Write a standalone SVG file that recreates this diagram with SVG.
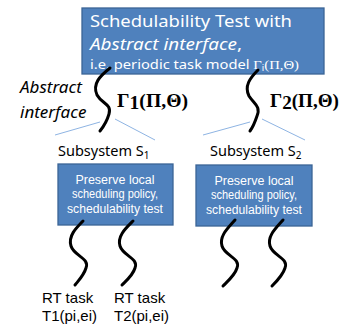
<svg xmlns="http://www.w3.org/2000/svg" width="341" height="327" viewBox="0 0 341 327">
<style>
.box{fill:#4f81bd;stroke:#3b6496;stroke-width:1.3}
.wt{fill:#fff;font-family:"Noto Sans","Liberation Sans",sans-serif}
.bt{fill:#fff;font-family:"Liberation Sans",sans-serif;font-size:12.5px;text-anchor:middle}
.k{fill:#000;font-family:"Noto Sans","Liberation Sans",sans-serif}
.r{fill:#000;font-family:"Liberation Sans",sans-serif;font-size:15px}
.g{fill:#000;font-family:"Liberation Serif",serif;font-weight:bold;font-size:19px}
.sq{fill:none;stroke:#000;stroke-width:3;stroke-linecap:round}
.bl{stroke:#8eb4e3;stroke-width:1}
</style>
<g id="top">
<rect class="box" x="82" y="8" width="242" height="66"/>
<text class="wt" x="90" y="27" font-size="17" textLength="202" lengthAdjust="spacingAndGlyphs">Schedulability Test with</text>
<text class="wt" x="90" y="50" font-size="17" font-style="italic" textLength="152" lengthAdjust="spacingAndGlyphs">Abstract interface<tspan font-style="normal">,</tspan></text>
<text class="wt" x="90" y="69" font-size="12.5" textLength="209" lengthAdjust="spacingAndGlyphs">i.e. periodic task model <tspan font-family="Liberation Serif,serif">Γ</tspan><tspan font-size="8" dy="2">i</tspan><tspan dy="-2" font-family="Liberation Serif,serif">(Π,Θ)</tspan></text>
</g>
<g id="abstract-label">
<text class="k" x="20" y="93" font-size="17" font-style="italic">Abstract</text>
<text class="k" x="20" y="118" font-size="17" font-style="italic">interface</text>
</g>
<g id="gamma1"><text class="g" x="117" y="107" textLength="71" lengthAdjust="spacingAndGlyphs">Γ<tspan dy="2">1</tspan><tspan dy="-2">(Π,Θ)</tspan></text></g>
<g id="gamma2"><text class="g" x="270" y="107" textLength="69" lengthAdjust="spacingAndGlyphs">Γ<tspan dy="2">2</tspan><tspan dy="-2">(Π,Θ)</tspan></text></g>
<g id="s1">
<text class="k" x="58" y="156" font-size="14.5">Subsystem S<tspan font-size="10" dy="3">1</tspan></text>
<rect class="box" x="58" y="164" width="115" height="61"/>
<text class="bt" x="115" y="184">Preserve local</text>
<text class="bt" x="115" y="198" textLength="86" lengthAdjust="spacingAndGlyphs">scheduling policy,</text>
<text class="bt" x="115" y="213" textLength="96" lengthAdjust="spacingAndGlyphs">schedulability test</text>
</g>
<g id="s2">
<text class="k" x="210" y="156" font-size="14.5">Subsystem S<tspan font-size="10" dy="3">2</tspan></text>
<rect class="box" x="196" y="165" width="116" height="61"/>
<text class="bt" x="254" y="185">Preserve local</text>
<text class="bt" x="254" y="199" textLength="86" lengthAdjust="spacingAndGlyphs">scheduling policy,</text>
<text class="bt" x="254" y="214" textLength="96" lengthAdjust="spacingAndGlyphs">schedulability test</text>
</g>
<g id="t1">
<text class="r" x="42" y="303">RT task</text>
<text class="r" x="42" y="321">T1(pi,ei)</text>
</g>
<g id="t2">
<text class="r" x="114" y="303">RT task</text>
<text class="r" x="114" y="321">T2(pi,ei)</text>
</g>
<g id="connectors">
<line class="bl" x1="100" y1="122" x2="55" y2="135"/>
<line class="bl" x1="115" y1="119" x2="155" y2="140"/>
<line class="bl" x1="250" y1="122" x2="203" y2="135"/>
<line class="bl" x1="262" y1="119" x2="305" y2="140"/>
<path class="sq" d="M110 68 C100 76 92 84 97 95 C102 104 112 104 109 114 C107 121 104 126 100 131"/>
<path class="sq" d="M258 70 C250 78 244 86 249 96 C254 104 261 106 257 116 C255 122 253 127 250 131"/>
<path class="sq" d="M83 221 C76 228 68 236 71 246 C74 256 90 258 86 268 C84 275 79 280 75 285"/>
<path class="sq" d="M133 221 C126 228 117 236 120 246 C123 256 139 258 135 268 C133 275 127 280 122 285"/>
<path class="sq" d="M235 220 C228 228 219 236 222 246 C225 256 241 258 237 268 C235 275 228 281 223 286"/>
<path class="sq" d="M283 220 C276 228 267 236 270 246 C273 256 289 258 285 268 C283 275 277 281 272 286"/>
</g>
</svg>
